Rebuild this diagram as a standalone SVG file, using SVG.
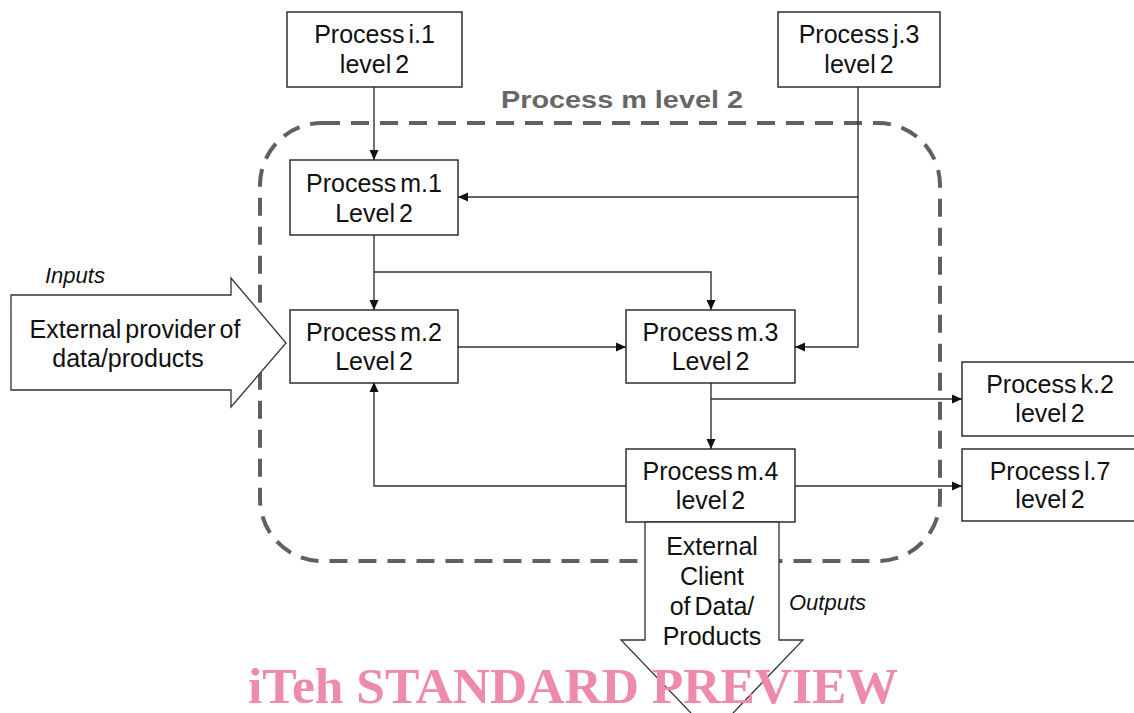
<svg xmlns="http://www.w3.org/2000/svg" width="1134" height="713" viewBox="0 0 1134 713">
  <style>
    .box { fill: #ffffff; stroke: #222222; stroke-width: 1.4; }
    .lbl { font-family: "Liberation Sans", Arial, sans-serif; font-size: 25px; fill: #111111; text-anchor: middle; word-spacing: -3px; }
    .it { font-family: "Liberation Sans", Arial, sans-serif; font-size: 22px; font-style: italic; fill: #111111; }
    .conn { fill: none; stroke: #333333; stroke-width: 1.4; }
    .big { fill: #ffffff; stroke: #333333; stroke-width: 1.3; }
  </style>
  <defs>
    <marker id="ah" viewBox="0 0 10 10" refX="10" refY="5" markerWidth="10" markerHeight="10" markerUnits="userSpaceOnUse" orient="auto">
      <path d="M0,0.5 L10,5 L0,9.5 Z" fill="#111111"/>
    </marker>
  </defs>
  <rect width="1134" height="713" fill="#ffffff"/>

  <!-- boundary of process m -->
  <rect x="260" y="123" width="680" height="438" rx="62" ry="62" fill="none" stroke="#606060" stroke-width="4" stroke-dasharray="18,11"/>
  <text x="622" y="108" font-family="Liberation Sans, Arial, sans-serif" font-weight="bold" font-size="23" fill="#666666" text-anchor="middle" textLength="242" lengthAdjust="spacingAndGlyphs">Process m level 2</text>

  <!-- input block arrow -->
  <g id="input">
    <path class="big" d="M11,295 L231,295 L231,278 L286,343 L231,407 L231,390 L11,390 Z"/>
    <text class="it" x="45" y="283">Inputs</text>
    <text class="lbl" x="135" y="338" word-spacing="0">External provider of</text>
    <text class="lbl" x="128" y="367">data/products</text>
  </g>

  <!-- connectors -->
  <g id="connectors">
    <path class="conn" d="M374,87 L374,160" marker-end="url(#ah)"/>
    <path class="conn" d="M858,87 L858,197 L458,197" marker-end="url(#ah)"/>
    <path class="conn" d="M858,197 L858,347 L795,347" marker-end="url(#ah)"/>
    <path class="conn" d="M374,235 L374,310" marker-end="url(#ah)"/>
    <path class="conn" d="M374,272 L711,272 L711,310" marker-end="url(#ah)"/>
    <path class="conn" d="M458,347 L626,347" marker-end="url(#ah)"/>
    <path class="conn" d="M711,382 L711,449" marker-end="url(#ah)"/>
    <path class="conn" d="M711,399 L962,399" marker-end="url(#ah)"/>
    <path class="conn" d="M795,486 L962,486" marker-end="url(#ah)"/>
    <path class="conn" d="M626,486 L374,486 L374,382" marker-end="url(#ah)"/>
  </g>

  <g id="proc-i1">
    <rect class="box" x="287" y="12" width="175" height="75"/>
    <text class="lbl" x="374.5" y="43">Process i.1</text>
    <text class="lbl" x="374.5" y="73">level 2</text>
  </g>
  <g id="proc-j3">
    <rect class="box" x="778" y="12" width="162" height="75"/>
    <text class="lbl" x="859" y="43">Process j.3</text>
    <text class="lbl" x="859" y="73">level 2</text>
  </g>
  <g id="proc-m1">
    <rect class="box" x="290" y="160" width="168" height="75"/>
    <text class="lbl" x="374" y="192">Process m.1</text>
    <text class="lbl" x="374" y="222">Level 2</text>
  </g>
  <g id="proc-m2">
    <rect class="box" x="290" y="310" width="168" height="73"/>
    <text class="lbl" x="374" y="341">Process m.2</text>
    <text class="lbl" x="374" y="370">Level 2</text>
  </g>
  <g id="proc-m3">
    <rect class="box" x="626" y="310" width="169" height="73"/>
    <text class="lbl" x="710.5" y="341">Process m.3</text>
    <text class="lbl" x="710.5" y="370">Level 2</text>
  </g>
  <g id="proc-m4">
    <rect class="box" x="626" y="449" width="169" height="73"/>
    <text class="lbl" x="710.5" y="480">Process m.4</text>
    <text class="lbl" x="710.5" y="509">level 2</text>
  </g>
  <g id="proc-k2">
    <rect class="box" x="962" y="362" width="180" height="74"/>
    <text class="lbl" x="1050" y="393" word-spacing="0">Process k.2</text>
    <text class="lbl" x="1050" y="422">level 2</text>
  </g>
  <g id="proc-l7">
    <rect class="box" x="962" y="449" width="180" height="72"/>
    <text class="lbl" x="1050" y="480">Process l.7</text>
    <text class="lbl" x="1050" y="508">level 2</text>
  </g>

  <!-- output block arrow -->
  <g id="output">
    <path class="big" d="M645,522 L779,522 L779,640 L803,640 L712,735 L621,640 L645,640 Z"/>
    <text class="lbl" x="712" y="555">External</text>
    <text class="lbl" x="712" y="585">Client</text>
    <text class="lbl" x="712" y="615">of Data/</text>
    <text class="lbl" x="712" y="645">Products</text>
    <text class="it" x="789" y="610">Outputs</text>
  </g>

  <text x="248" y="703" font-family="Liberation Serif, Times New Roman, serif" font-weight="bold" font-size="50" fill="#ee8aab" textLength="650" lengthAdjust="spacingAndGlyphs">iTeh STANDARD PREVIEW</text>
</svg>
